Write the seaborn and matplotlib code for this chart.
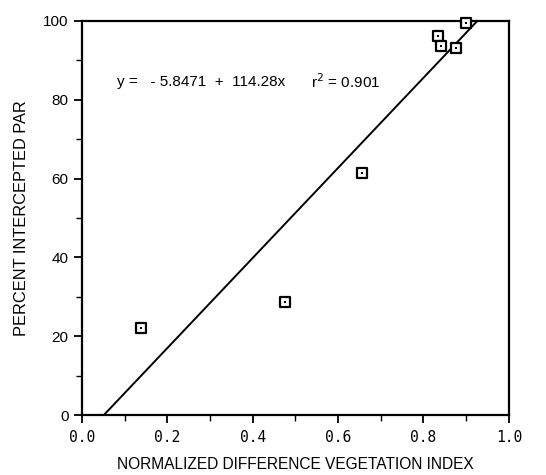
import numpy as np
import pandas as pd
import matplotlib.pyplot as plt
import seaborn as sns

# data
ndvi = [0.138, 0.475, 0.656, 0.833, 0.840, 0.876, 0.900]
par = [22.1, 28.7, 61.4, 96.2, 93.7, 93.2, 99.4]
intercept = -5.8471
slope = 114.28
r2 = 0.901

df = pd.DataFrame({'ndvi': ndvi, 'par': par})

sns.set_style('ticks')
plt.rcParams['font.family'] = ['Liberation Sans', 'DejaVu Sans']
plt.rcParams['text.color'] = 'black'
plt.rcParams['axes.labelcolor'] = 'black'

fig = plt.figure(figsize=(5.46, 4.75), dpi=100)
ax = fig.add_axes([0.150, 0.126, 0.782, 0.830])

# regression line from the printed equation
xl = np.linspace(0, 1, 50)
ax.plot(xl, intercept + slope * xl, color='black', lw=1.4, zorder=2)

sns.scatterplot(data=df, x='ndvi', y='par', ax=ax, marker='s', s=45,
                facecolor='white', edgecolor='black', linewidth=1.6, zorder=5,
                clip_on=False)
sns.scatterplot(data=df, x='ndvi', y='par', ax=ax, marker='s', s=3,
                color='black', linewidth=0, zorder=6, clip_on=False)

ax.set_xlim(0, 1)
ax.set_ylim(0, 100)
ax.set_xticks(np.arange(0, 1.01, 0.2))
ax.set_xticks(np.arange(0.1, 1.0, 0.2), minor=True)
ax.set_yticks(np.arange(0, 101, 20))
ax.set_yticks(np.arange(10, 100, 20), minor=True)
ax.set_xticklabels([f'{v:.1f}' for v in np.arange(0, 1.01, 0.2)],
                   family='DejaVu Sans Mono', fontsize=10.5)
ax.set_yticklabels([f'{v:.0f}' for v in np.arange(0, 101, 20)], fontsize=11)
ax.tick_params(which='major', direction='out', length=6, width=1.3,
               colors='black', labelcolor='black')
ax.tick_params(which='minor', direction='out', length=4, width=1.0, colors='black')
ax.tick_params(axis='x', pad=5)

for s in ax.spines.values():
    s.set_visible(True)
    s.set_linewidth(1.6)
    s.set_color('black')

ax.set_xlabel('NORMALIZED DIFFERENCE VEGETATION INDEX', fontsize=11.2, labelpad=8)
ax.set_ylabel('PERCENT INTERCEPTED PAR', fontsize=11.8, labelpad=10)

ax.text(0.082, 84.5, f'y =   - {abs(intercept):.4f}  +  {slope:.2f}x', fontsize=11, va='center')
ax.text(0.536, 84.5, f'r$^{{2}}$ = {r2:.3f}', fontsize=11, va='center')

fig.savefig('out.png', dpi=100)
